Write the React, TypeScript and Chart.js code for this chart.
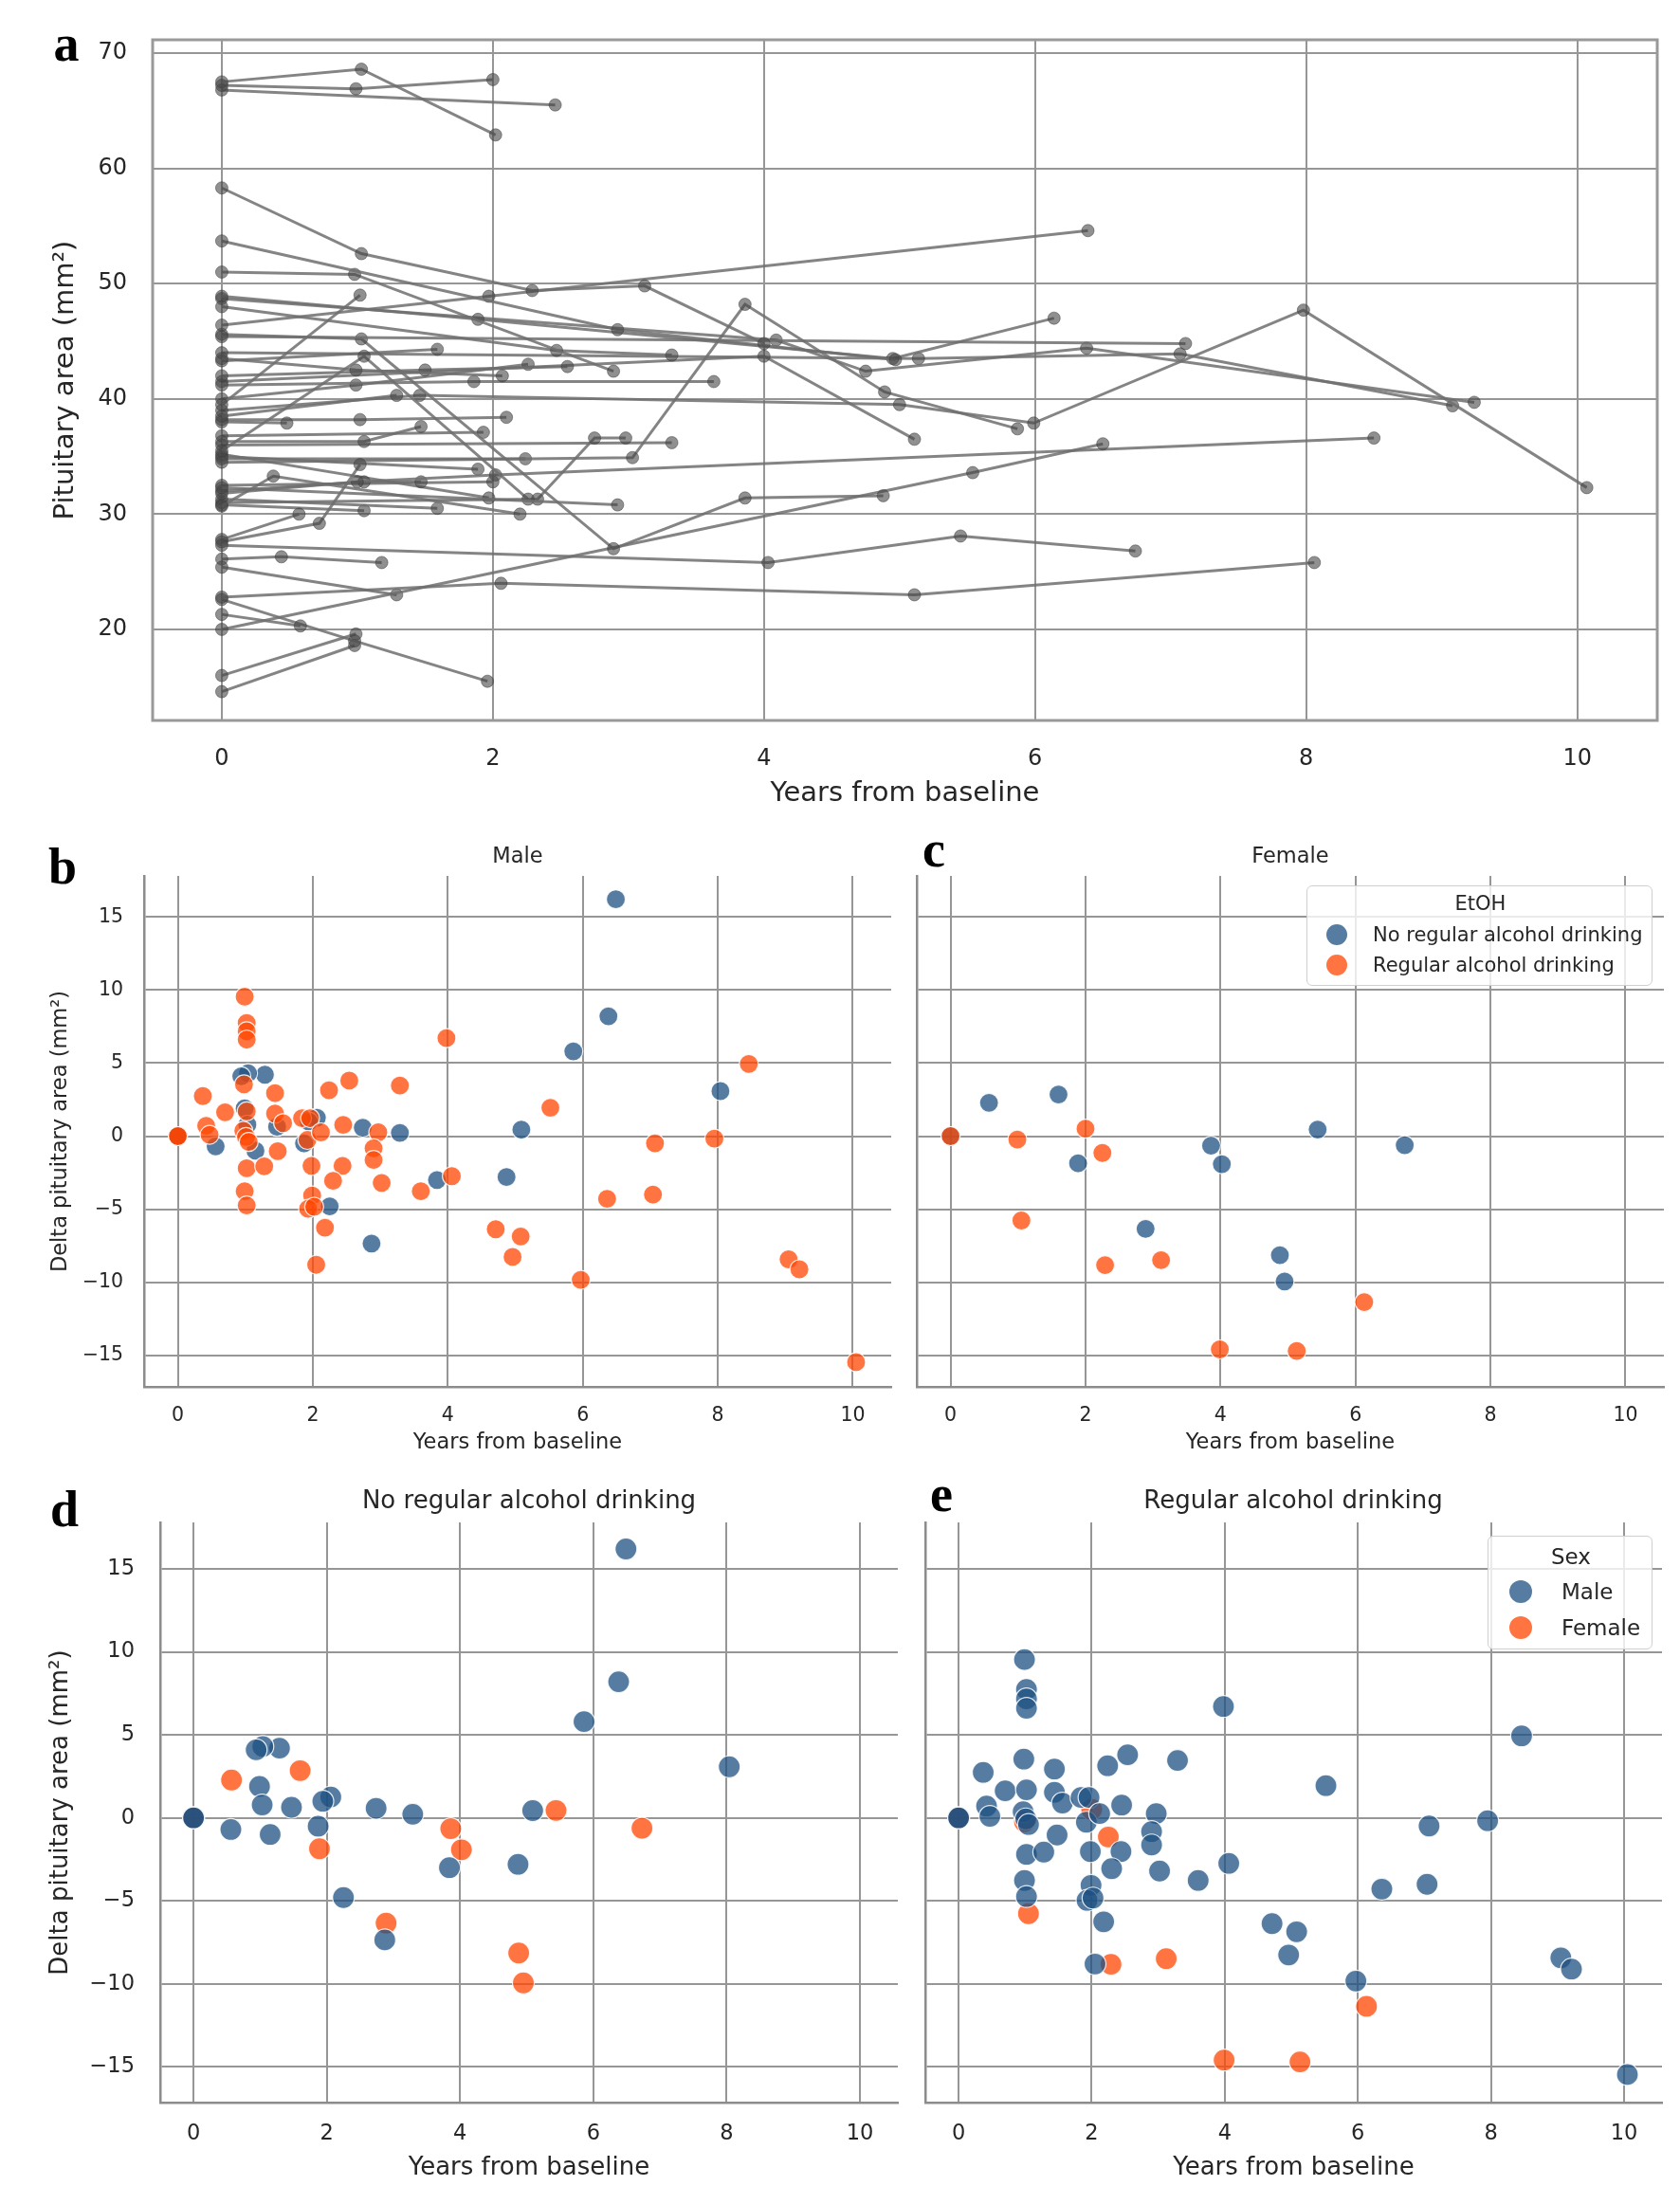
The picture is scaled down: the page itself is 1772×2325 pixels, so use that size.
import { useEffect, useRef } from "react";
import { Chart, registerables, ChartConfiguration } from "chart.js";

Chart.register(...registerables);

type Pt = [number, number];

const FONT = "'DejaVu Sans', sans-serif";
const TEXT = "#262626";
const GRID = "#969696";
const SPINE = "#8c8c8c";
const BLUE = "rgba(30, 80, 130, 0.75)";
const ORANGE = "rgba(255, 69, 0, 0.75)";

// tick labels
const yearTicks = [0, 2, 4, 6, 8, 10];
const areaTicks = [20, 30, 40, 50, 60, 70];
const deltaTicks = [-15, -10, -5, 0, 5, 10, 15];

// panel a: one trajectory per subject, [years from baseline, pituitary area]
const trajectories: Pt[][] = [
  [[0, 67.5], [1.03, 68.6], [2.02, 62.9]],
  [[0, 67.2], [0.99, 66.9], [2.0, 67.7]],
  [[0, 66.8], [2.46, 65.5]],
  [[0, 58.3], [1.03, 52.6], [2.29, 49.4], [3.12, 49.8], [4.0, 44.8]],
  [[0, 53.7], [2.92, 46.0], [4.97, 43.4]],
  [[0, 51.0], [0.98, 50.8], [2.89, 42.4]],
  [[0, 46.4], [1.97, 48.9], [6.39, 54.6]],
  [[0, 48.0], [2.47, 44.2], [3.32, 43.8]],
  [[0, 48.9], [1.89, 46.9], [4.95, 43.5], [6.14, 47.0]],
  [[0, 45.4], [7.11, 44.8]],
  [[0, 48.7], [4.09, 45.1], [4.75, 42.4], [6.38, 44.4], [9.24, 39.7]],
  [[0, 45.6], [1.03, 45.2], [2.89, 27.0], [3.86, 31.4], [4.88, 31.6]],
  [[0, 20.0], [5.54, 33.6], [6.5, 36.1]],
  [[0, 32.3], [2.92, 30.8]],
  [[0, 22.8], [2.06, 24.0], [5.11, 23.0], [8.06, 25.8]],
  [[0, 25.4], [1.29, 23.0]],
  [[0, 26.1], [0.44, 26.3], [1.18, 25.8]],
  [[0, 27.3], [4.03, 25.8], [5.45, 28.1], [6.74, 26.8]],
  [[0, 27.8], [0.57, 30.0]],
  [[0, 27.6], [0.72, 29.2], [1.02, 34.3]],
  [[0, 21.3], [0.58, 20.3]],
  [[0, 22.6], [0.98, 19.0], [1.96, 15.5]],
  [[0, 16.0], [0.99, 19.6]],
  [[0, 14.6], [0.98, 18.6]],
  [[0, 30.7], [0.38, 33.3], [2.2, 30.0]],
  [[0, 39.5], [1.02, 49.0]],
  [[0, 35.5], [1.05, 43.7], [2.26, 31.3]],
  [[0, 43.5], [0.99, 42.5], [2.07, 42.0]],
  [[0, 43.3], [1.59, 44.3]],
  [[0, 42.0], [1.5, 42.5], [2.55, 42.8]],
  [[0, 41.2], [1.86, 41.5], [3.63, 41.5]],
  [[0, 40.0], [0.99, 41.2], [2.26, 43.0]],
  [[0, 34.5], [3.03, 34.9], [3.86, 48.2], [4.89, 40.6], [5.87, 37.4]],
  [[0, 38.5], [1.29, 40.3]],
  [[0, 39.0], [1.46, 40.3], [5.0, 39.5], [5.99, 37.9], [7.98, 47.7], [10.07, 32.3]],
  [[0, 38.0], [0.48, 37.9]],
  [[0, 38.2], [1.02, 38.2], [2.1, 38.4]],
  [[0, 36.3], [1.05, 36.3], [1.47, 37.6]],
  [[0, 36.8], [1.93, 37.1]],
  [[0, 34.8], [2.24, 34.8]],
  [[0, 31.8], [1.0, 32.8], [2.02, 33.4], [8.5, 36.6]],
  [[0, 32.0], [1.05, 32.8], [1.47, 32.8]],
  [[0, 35.0], [1.89, 33.9]],
  [[0, 32.5], [2.0, 32.8]],
  [[0, 35.2], [1.97, 31.4]],
  [[0, 41.5], [4.0, 43.7], [5.11, 36.5]],
  [[0, 44.0], [5.14, 43.5], [7.07, 43.9], [9.08, 39.4]],
  [[0, 31.3], [1.59, 30.5]],
  [[0, 30.8], [1.05, 30.3]],
  [[0, 31.0], [2.33, 31.3], [2.75, 36.6], [2.98, 36.6]],
  [[0, 36.0], [3.32, 36.2]],
];

// panels b-e: [years from baseline, delta pituitary area]
const maleNoDrink: Pt[] = [
  [0, 0], [0, 0], [6.49, 16.2], [6.38, 8.2], [5.86, 5.8], [8.04, 3.08], [5.09, 0.44],
  [4.87, -2.8], [3.84, -3.0], [3.29, 0.22], [2.74, 0.58], [2.87, -7.35],
  [2.25, -4.8], [2.06, 1.26], [1.94, 1.0], [1.87, -0.5], [1.47, 0.64],
  [1.29, 4.2], [1.04, 4.3], [0.94, 4.1], [0.99, 1.9], [1.03, 0.78],
  [1.15, -1.0], [0.56, -0.7],
];

const maleDrink: Pt[] = [
  [0, 0], [0, 0], [0.99, 9.54], [1.02, 7.74], [1.02, 7.17], [1.02, 6.6], [0.37, 2.74],
  [0.98, 3.54], [1.44, 2.94], [0.7, 1.63], [1.02, 1.69], [1.44, 1.54],
  [1.56, 0.89], [0.42, 0.71], [0.47, 0.09], [0.97, 0.37], [1.01, -0.06],
  [1.05, -0.4], [1.48, -1.03], [1.02, -2.2], [1.28, -2.06], [0.99, -3.77],
  [1.02, -4.74], [1.84, 1.23], [1.96, 1.23], [1.92, -0.26], [2.12, 0.26],
  [2.24, 3.14], [2.54, 3.8], [2.45, 0.77], [1.98, -2.03], [2.44, -2.03],
  [2.3, -3.06], [1.99, -4.06], [1.93, -4.97], [2.02, -4.83], [2.18, -6.26],
  [2.05, -8.8], [2.97, 0.26], [2.9, -0.83], [2.9, -1.63], [3.02, -3.2],
  [3.29, 3.46], [3.6, -3.77], [3.98, 6.71], [4.06, -2.74], [4.71, -6.37],
  [5.08, -6.86], [4.96, -8.26], [5.52, 1.94], [5.97, -9.83], [6.36, -4.29],
  [7.07, -0.49], [7.04, -4.0], [7.95, -0.17], [8.46, 4.94], [9.05, -8.43],
  [9.21, -9.11], [10.05, -15.46],
];

const femaleNoDrink: Pt[] = [
  [0, 0], [0.57, 2.28], [1.6, 2.85], [1.89, -1.86], [3.86, -0.65], [4.02, -1.92],
  [2.89, -6.34], [4.88, -8.14], [4.95, -9.94], [5.44, 0.45], [6.73, -0.62],
];

const femaleDrink: Pt[] = [
  [0, 0], [0.99, -0.23], [1.05, -5.77], [2.0, 0.51], [2.25, -1.15], [2.29, -8.82],
  [3.12, -8.48], [3.99, -14.59], [5.13, -14.7], [6.13, -11.35],
];

const fmt = (v: number) => String(v).replace("-", "\u2212");

interface AxisOpts {
  tickSize: number;
  titleSize: number;
  xHeight: number;
  yWidth: number;
  xTickPad: number;
  yTickPad: number;
  xTitlePad: number;
  yTitlePad: number;
  showY: boolean;
  yTitle: string;
  yTicks: number[];
  yMin: number;
  yMax: number;
  xMin: number;
  xMax: number;
  spines: boolean;
}

// fixed axis boxes, without the extra room Chart.js keeps for edge labels
function fixBox(s: any, key: "width" | "height", size: number) {
  s[key] = size;
  s.paddingTop = 0;
  s.paddingBottom = 0;
  s.paddingLeft = 0;
  s.paddingRight = 0;
}

function scales(o: AxisOpts) {
  return {
    x: {
      type: "linear" as const,
      min: o.xMin,
      max: o.xMax,
      afterBuildTicks: (s: any) => {
        s.ticks = yearTicks.map((value) => ({ value }));
      },
      afterFit: (s: any) => fixBox(s, "height", o.xHeight),
      grid: { color: GRID, lineWidth: 2, drawTicks: false },
      border: { display: o.spines, color: SPINE, width: 2.5 },
      ticks: {
        color: TEXT,
        font: { family: FONT, size: o.tickSize },
        padding: o.xTickPad,
        maxRotation: 0,
        autoSkip: false,
        callback: (v: any) => fmt(Number(v)),
      },
      title: {
        display: true,
        text: "Years from baseline",
        color: TEXT,
        font: { family: FONT, size: o.titleSize },
        padding: { top: 0, bottom: o.xTitlePad },
      },
    },
    y: {
      type: "linear" as const,
      min: o.yMin,
      max: o.yMax,
      afterBuildTicks: (s: any) => {
        s.ticks = o.yTicks.map((value) => ({ value }));
      },
      afterFit: (s: any) => fixBox(s, "width", o.yWidth),
      grid: { color: GRID, lineWidth: 2, drawTicks: false },
      border: { display: o.spines, color: SPINE, width: 2.5 },
      ticks: {
        display: o.showY,
        color: TEXT,
        font: { family: FONT, size: o.tickSize },
        padding: o.yTickPad,
        autoSkip: false,
        callback: (v: any) => fmt(Number(v)),
      },
      title: {
        display: o.showY,
        text: o.yTitle,
        color: TEXT,
        font: { family: FONT, size: o.titleSize },
        padding: { top: o.yTitlePad, bottom: 0 },
      },
    },
  };
}

const framePlugin = {
  id: "frame",
  afterDraw(chart: Chart) {
    const { ctx, chartArea: a } = chart;
    ctx.save();
    ctx.strokeStyle = "#999999";
    ctx.lineWidth = 3;
    ctx.strokeRect(a.left, a.top, a.right - a.left, a.bottom - a.top);
    ctx.restore();
  },
};

function pointSet(points: Pt[], color: string, r: number) {
  return {
    data: points.map(([x, y]) => ({ x, y })),
    backgroundColor: color,
    borderColor: "rgba(255,255,255,0.85)",
    borderWidth: 1.2,
    pointRadius: r,
    pointHoverRadius: r,
  };
}

function trajectoryConfig(): ChartConfiguration {
  return {
    type: "scatter",
    data: {
      datasets: trajectories.map((t) => ({
        data: t.map(([x, y]) => ({ x, y })),
        showLine: true,
        borderColor: "rgba(110,110,110,0.85)",
        borderWidth: 3,
        backgroundColor: "rgba(70,70,70,0.6)",
        pointBorderColor: "rgba(60,60,60,0.5)",
        pointBorderWidth: 1,
        pointRadius: 6.5,
        tension: 0,
      })),
    },
    options: {
      responsive: true,
      maintainAspectRatio: false,
      animation: false,
      events: [],
      layout: { autoPadding: false, padding: { top: 12, right: 8, left: 0, bottom: 0 } },
      plugins: { legend: { display: false }, tooltip: { enabled: false } },
      scales: scales({
        tickSize: 24,
        titleSize: 29,
        xHeight: 98,
        yWidth: 121,
        xTickPad: 26,
        yTickPad: 27,
        xTitlePad: 3,
        yTitlePad: 12,
        showY: true,
        yTitle: "Pituitary area (mm\u00b2)",
        yTicks: areaTicks,
        yMin: 12.1,
        yMax: 71.15,
        xMin: -0.51,
        xMax: 10.59,
        spines: false,
      }) as any,
    },
    plugins: [framePlugin],
  };
}

interface DeltaOpts {
  sets: { points: Pt[]; color: string }[];
  r: number;
  showY: boolean;
  big: boolean;
  yWidth: number;
}

function deltaConfig(d: DeltaOpts): ChartConfiguration {
  const big = d.big;
  return {
    type: "scatter",
    data: { datasets: d.sets.map((s) => pointSet(s.points, s.color, d.r)) },
    options: {
      responsive: true,
      maintainAspectRatio: false,
      animation: false,
      events: [],
      layout: {
        autoPadding: false,
        padding: { top: big ? 16 : 14, right: 8, left: 0, bottom: 0 },
      },
      plugins: { legend: { display: false }, tooltip: { enabled: false } },
      scales: scales({
        tickSize: big ? 22.5 : 20.5,
        titleSize: big ? 26 : 22.5,
        xHeight: big ? 102 : 82,
        yWidth: d.yWidth,
        xTickPad: big ? 20 : 18,
        yTickPad: big ? 27 : 22,
        xTitlePad: big ? 17 : 9.5,
        yTitlePad: big ? 8.4 : 10.5,
        showY: d.showY,
        yTitle: "Delta pituitary area (mm\u00b2)",
        yTicks: deltaTicks,
        yMin: -17.15,
        yMax: 17.8,
        xMin: -0.5,
        xMax: 10.57,
        spines: true,
      }) as any,
    },
  };
}

function ChartBox(props: {
  left: number;
  top: number;
  width: number;
  height: number;
  make: () => ChartConfiguration;
}) {
  const canvasRef = useRef<HTMLCanvasElement>(null);

  useEffect(() => {
    if (!canvasRef.current) return;
    const chart = new Chart(canvasRef.current, props.make());
    return () => {
      chart.destroy();
    };
  }, []);

  return (
    <div
      style={{
        position: "absolute",
        left: props.left,
        top: props.top,
        width: props.width,
        height: props.height,
      }}
    >
      <canvas ref={canvasRef} />
    </div>
  );
}

function Text(props: {
  x: number;
  y: number;
  size: number;
  children: string;
  align?: "center" | "left";
  serif?: boolean;
}) {
  const align = props.align ?? "center";
  return (
    <div
      style={{
        position: "absolute",
        left: align === "center" ? props.x - 400 : props.x,
        width: align === "center" ? 800 : undefined,
        top: props.y - props.size / 2,
        height: props.size,
        lineHeight: `${props.size}px`,
        fontSize: props.size,
        fontFamily: props.serif ? "'Liberation Serif', serif" : FONT,
        fontWeight: props.serif ? 700 : 400,
        color: props.serif ? "#000" : TEXT,
        textAlign: align,
        whiteSpace: "nowrap",
      }}
    >
      {props.children}
    </div>
  );
}

function Legend(props: {
  left: number;
  top: number;
  width: number;
  height: number;
  title: string;
  items: [string, string][];
  size: number;
  titleY: number;
  rowY: number[];
  markerX: number;
  textX: number;
  r: number;
}) {
  return (
    <div
      style={{
        position: "absolute",
        left: props.left,
        top: props.top,
        width: props.width,
        height: props.height,
        boxSizing: "border-box",
        border: "1.5px solid #cfcfcf",
        borderRadius: 6,
        background: "rgba(255,255,255,0.8)",
      }}
    >
      <Text x={props.width / 2} y={props.titleY} size={props.size}>
        {props.title}
      </Text>
      {props.items.map(([label, color], i) => (
        <div key={label}>
          <div
            style={{
              position: "absolute",
              left: props.markerX - props.r,
              top: props.rowY[i] - props.r,
              width: props.r * 2,
              height: props.r * 2,
              borderRadius: "50%",
              background: color,
            }}
          />
          <Text x={props.textX} y={props.rowY[i]} size={props.size} align="left">
            {label}
          </Text>
        </div>
      ))}
    </div>
  );
}

export default function App() {
  return (
    <div
      style={{
        position: "absolute",
        left: 0,
        top: 0,
        width: 1772,
        height: 2325,
        background: "#ffffff",
        overflow: "hidden",
      }}
    >
      <ChartBox left={40} top={30} width={1716} height={828} make={trajectoryConfig} />

      {/* first dataset is drawn on top in Chart.js */}
      <ChartBox
        left={40}
        top={910}
        width={908}
        height={635}
        make={() =>
          deltaConfig({
            sets: [
              { points: maleDrink, color: ORANGE },
              { points: maleNoDrink, color: BLUE },
            ],
            r: 10,
            showY: true,
            big: false,
            yWidth: 112,
          })
        }
      />
      <ChartBox
        left={950}
        top={910}
        width={813}
        height={635}
        make={() =>
          deltaConfig({
            sets: [
              { points: femaleDrink, color: ORANGE },
              { points: femaleNoDrink, color: BLUE },
            ],
            r: 10,
            showY: false,
            big: false,
            yWidth: 17,
          })
        }
      />
      <ChartBox
        left={40}
        top={1590}
        width={915}
        height={730}
        make={() =>
          deltaConfig({
            sets: [
              { points: maleNoDrink, color: BLUE },
              { points: femaleNoDrink, color: ORANGE },
            ],
            r: 11.5,
            showY: true,
            big: true,
            yWidth: 129,
          })
        }
      />
      <ChartBox
        left={958}
        top={1590}
        width={803}
        height={730}
        make={() =>
          deltaConfig({
            sets: [
              { points: maleDrink, color: BLUE },
              { points: femaleDrink, color: ORANGE },
            ],
            r: 11.5,
            showY: false,
            big: true,
            yWidth: 18,
          })
        }
      />

      <Text x={546} y={902} size={22.5}>Male</Text>
      <Text x={1361} y={902} size={22.5}>Female</Text>
      <Text x={558} y={1582} size={26}>No regular alcohol drinking</Text>
      <Text x={1364} y={1582} size={26}>Regular alcohol drinking</Text>

      <Legend
        left={1378}
        top={934}
        width={365}
        height={106}
        title="EtOH"
        items={[
          ["No regular alcohol drinking", BLUE],
          ["Regular alcohol drinking", ORANGE],
        ]}
        size={21}
        titleY={18}
        rowY={[51, 83]}
        markerX={31}
        textX={69}
        r={11}
      />
      <Legend
        left={1569}
        top={1620}
        width={174}
        height={120}
        title="Sex"
        items={[
          ["Male", BLUE],
          ["Female", ORANGE],
        ]}
        size={23}
        titleY={21}
        rowY={[58, 96]}
        markerX={34}
        textX={77}
        r={12}
      />

      <Text x={70} y={46} size={54} serif>a</Text>
      <Text x={66} y={914} size={54} serif>b</Text>
      <Text x={985} y={896} size={54} serif>c</Text>
      <Text x={68} y={1592} size={54} serif>d</Text>
      <Text x={993} y={1576} size={54} serif>e</Text>
    </div>
  );
}
